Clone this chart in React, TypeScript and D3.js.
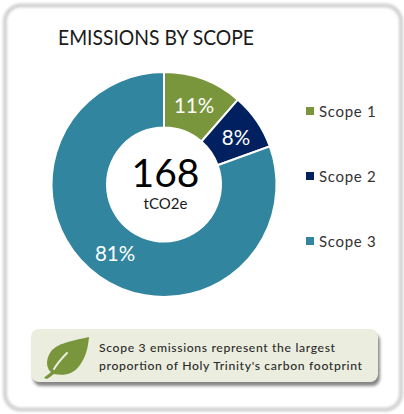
import React from "react";
import * as d3 from "d3";

const categories = ["Scope 1", "Scope 2", "Scope 3"];
const shares = [11.4, 8.1, 80.5];
const colors = ["#7a963c", "#012060", "#31859f"];
const shareLabels = ["11%", "8%", "81%"];
const total = "168";
const unit = "tCO2e";
const title = "EMISSIONS BY SCOPE";
const note = ["Scope 3 emissions represent the largest", "proportion of Holy Trinity's carbon footprint"];

const W = 404, H = 414, cx = 164, cy = 184.5, R = 112.5, r = 57;
const FONT = "Lato, 'Open Sans', sans-serif";
const labelOffsets = [[30, -78.5], [72, -46.5], [-49, 69.5]];

export default function App() {
  const pie = d3.pie<number>().sort(null)(shares);
  const arc = d3.arc<d3.PieArcDatum<number>>().innerRadius(r).outerRadius(R);
  const legendY = d3.scalePoint<string>().domain(categories).range([111, 241]);
  return (
    <svg width={W} height={H} style={{ position: "absolute", left: 0, top: 0 }} fontFamily={FONT}>
      <defs>
        <filter id="blur1" x="-5%" y="-5%" width="110%" height="110%"><feGaussianBlur stdDeviation="1.3" /></filter>
        <filter id="blur2" x="-5%" y="-20%" width="110%" height="140%"><feGaussianBlur stdDeviation="1.5" /></filter>
      </defs>
      <rect width={W} height={H} fill="#fff" />
      <rect x={5} y={5.5} width={396} height={404} rx={16} fill="#fff" stroke="#d6d6d6" strokeWidth={4.5} filter="url(#blur1)" />
      <text x={58} y={45} fontSize={20.5} fill="#1a1a1a" textLength={196} lengthAdjust="spacingAndGlyphs">{title}</text>
      <g transform={`translate(${cx},${cy})`}>
        {pie.map((d, i) => (
          <path key={categories[i]} d={arc(d) ?? ""} fill={colors[i]} stroke="#fff" strokeWidth={2} />
        ))}
        {pie.map((d, i) => (
          <text key={shareLabels[i]} x={labelOffsets[i][0]} y={labelOffsets[i][1]} dy="0.36em" textAnchor="middle" fill="#fff" fontSize={20.5}>{shareLabels[i]}</text>
        ))}
      </g>
      <text x={cx + 1.5} y={187} textAnchor="middle" fontSize={39} fill="#000">{total}</text>
      <text x={cx + 1.5} y={209} textAnchor="middle" fontSize={15} fill="#1a1a1a">{unit}</text>
      {categories.map((c, i) => (
        <g key={c} transform={`translate(306,${legendY(c)})`}>
          <rect x={0} y={-4} width={8} height={8} fill={colors[i]} />
          <text x={13} y={5.5} fontSize={15} letterSpacing={0.7} fill="#333">{c}</text>
        </g>
      ))}
      <rect x={33} y={333} width={347} height={53} rx={8} fill="#555" opacity={0.7} filter="url(#blur2)" />
      <rect x={31} y={329} width={347} height={53} rx={8} fill="#ebeedf" />
      <path d="M89 337 C72 341 56 343 50 353 C45 361 47 369 51 372 C48 375 45 376 44 378 L47 379 C49 378 51 376 54 374 C63 376 73 375 80 365 C87 355 88 346 89 337 Z" fill="#7a963c" />
      <path d="M54 369 C57 364 61 359 67 353" fill="none" stroke="#ebeedf" strokeWidth={2} strokeLinecap="round" />
      <text x={99} y={352} fontSize={12.2} fontWeight={500} fill="#2b2b2b" textLength={236}>{note[0]}</text>
      <text x={99} y={370} fontSize={12.2} fontWeight={500} fill="#2b2b2b" textLength={263}>{note[1]}</text>
    </svg>
  );
}
